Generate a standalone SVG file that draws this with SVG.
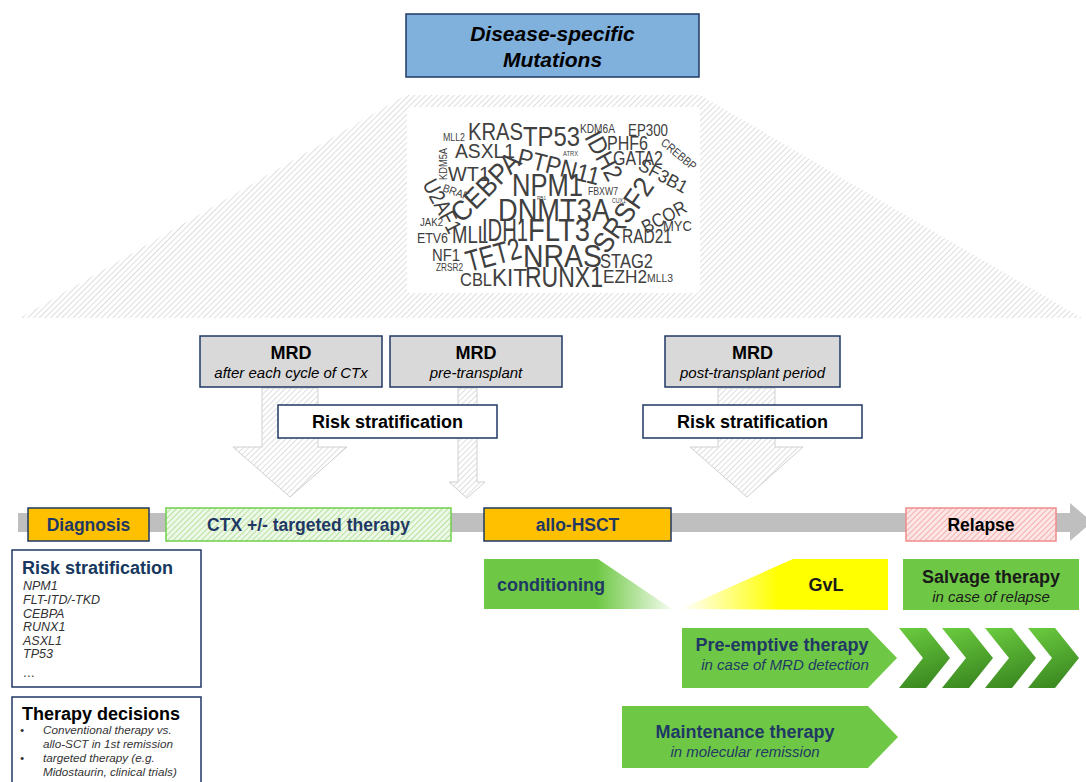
<svg xmlns="http://www.w3.org/2000/svg" width="1086" height="782" viewBox="0 0 1086 782">
<defs>
<pattern id="hGray" width="4" height="4" patternUnits="userSpaceOnUse" patternTransform="rotate(45)"><rect width="4" height="4" fill="#ffffff"/><line x1="0" y1="0" x2="0" y2="4" stroke="#d6d6d6" stroke-width="1.6"/></pattern>
<pattern id="hGreen" width="4" height="4" patternUnits="userSpaceOnUse" patternTransform="rotate(45)"><rect width="4" height="4" fill="#eef8e8"/><line x1="0" y1="0" x2="0" y2="4" stroke="#a9dd8e" stroke-width="1.6"/></pattern>
<pattern id="hRed" width="4" height="4" patternUnits="userSpaceOnUse" patternTransform="rotate(45)"><rect width="4" height="4" fill="#fde6e6"/><line x1="0" y1="0" x2="0" y2="4" stroke="#f2a3a3" stroke-width="1.6"/></pattern>
<linearGradient id="gCond" gradientUnits="userSpaceOnUse" x1="484" y1="0" x2="672" y2="0"><stop offset="0" stop-color="#6fc845"/><stop offset="0.6" stop-color="#6fc845"/><stop offset="1" stop-color="#f4fcef"/></linearGradient>
<linearGradient id="gGvL" gradientUnits="userSpaceOnUse" x1="681" y1="0" x2="888" y2="0"><stop offset="0" stop-color="#ffffff"/><stop offset="0.47" stop-color="#ffff00"/><stop offset="1" stop-color="#ffff00"/></linearGradient>
<linearGradient id="gChev" x1="0" y1="0" x2="0.3" y2="1"><stop offset="0" stop-color="#6ccc40"/><stop offset="1" stop-color="#3d8c22"/></linearGradient>
</defs>
<style>
text{font-family:"Liberation Sans",Arial,sans-serif}
.wc{fill:#404040}
.b{font-weight:bold}
.i{font-style:italic}
.navy{fill:#1f3864}
.box{stroke:#1f3864;stroke-width:1.5}
.mrd{fill:#d9d9d9;stroke:#1f3864;stroke-width:1.5}
.risk{fill:#ffffff;stroke:#1f3864;stroke-width:1.5}
.harr{fill:url(#hGray);stroke:#d0d0d0;stroke-width:1}
.grn{fill:#6fc845}
.lst{font-size:12.5px;font-style:italic;fill:#333333}
.bl{font-size:11.7px;font-style:italic;fill:#333333}
.t1{font-size:18px;font-weight:bold}
.t2{font-size:15px;font-style:italic}
.tl{font-size:17.5px;font-weight:bold}
</style>
<rect width="1086" height="782" fill="#ffffff"/>

<g id="mutations-title">
<rect x="406" y="14" width="293" height="63" fill="#80b0dc" class="box"/>
<text x="552.5" y="41" text-anchor="middle" font-size="21" class="b i">Disease-specific</text>
<text x="552.5" y="67" text-anchor="middle" font-size="21" class="b i">Mutations</text>
</g>

<g id="word-cloud">
<polygon points="406,95 700,95 1082,318 20,318" fill="url(#hGray)"/>
<rect x="407" y="107" width="293" height="186" rx="4" fill="#ffffff"/>
<g class="wc">
<text x="443" y="141" font-size="10" textLength="22" lengthAdjust="spacingAndGlyphs">MLL2</text>
<text x="468" y="140" font-size="23" textLength="55" lengthAdjust="spacingAndGlyphs">KRAS</text>
<text x="523" y="146" font-size="28" textLength="57" lengthAdjust="spacingAndGlyphs">TP53</text>
<text x="580" y="133" font-size="12" textLength="35" lengthAdjust="spacingAndGlyphs">KDM6A</text>
<text x="628" y="136" font-size="17" textLength="40" lengthAdjust="spacingAndGlyphs">EP300</text>
<text x="607" y="150" font-size="20" textLength="41" lengthAdjust="spacingAndGlyphs">PHF6</text>
<text x="455" y="158" font-size="21" textLength="60" lengthAdjust="spacingAndGlyphs">ASXL1</text>
<text x="563" y="156" font-size="7" textLength="15" lengthAdjust="spacingAndGlyphs">ATRX</text>
<text x="613" y="165" font-size="20" textLength="50" lengthAdjust="spacingAndGlyphs">GATA2</text>
<text x="448" y="181" font-size="21" textLength="42" lengthAdjust="spacingAndGlyphs">WT1</text>
<text x="512" y="196" font-size="32" textLength="71" lengthAdjust="spacingAndGlyphs">NPM1</text>
<text x="588" y="195" font-size="11" textLength="30" lengthAdjust="spacingAndGlyphs">FBXW7</text>
<text x="537" y="200" font-size="6" textLength="9" lengthAdjust="spacingAndGlyphs">RB1</text>
<text x="612" y="203" font-size="7" textLength="14" lengthAdjust="spacingAndGlyphs">CUX1</text>
<text x="498" y="221" font-size="32" textLength="112" lengthAdjust="spacingAndGlyphs">DNMT3A</text>
<text x="663" y="231" font-size="15" textLength="29" lengthAdjust="spacingAndGlyphs">MYC</text>
<text x="420" y="226" font-size="11" textLength="23" lengthAdjust="spacingAndGlyphs">JAK2</text>
<text x="482" y="241" font-size="31" textLength="46" lengthAdjust="spacingAndGlyphs">IDH1</text>
<text x="528" y="241" font-size="31" textLength="62" lengthAdjust="spacingAndGlyphs">FLT3</text>
<text x="417" y="243" font-size="14" textLength="31" lengthAdjust="spacingAndGlyphs">ETV6</text>
<text x="452" y="243" font-size="23" textLength="36" lengthAdjust="spacingAndGlyphs">MLL</text>
<text x="622" y="243" font-size="20" textLength="50" lengthAdjust="spacingAndGlyphs">RAD21</text>
<text x="432" y="261" font-size="17" textLength="28" lengthAdjust="spacingAndGlyphs">NF1</text>
<text x="523" y="267" font-size="32" textLength="79" lengthAdjust="spacingAndGlyphs">NRAS</text>
<text x="600" y="268" font-size="21" textLength="53" lengthAdjust="spacingAndGlyphs">STAG2</text>
<text x="436" y="271" font-size="11" textLength="27" lengthAdjust="spacingAndGlyphs">ZRSR2</text>
<text x="460" y="286" font-size="19" textLength="32" lengthAdjust="spacingAndGlyphs">CBL</text>
<text x="492" y="286" font-size="24" textLength="35" lengthAdjust="spacingAndGlyphs">KIT</text>
<text x="525" y="287" font-size="30" textLength="78" lengthAdjust="spacingAndGlyphs">RUNX1</text>
<text x="603" y="283" font-size="18" textLength="44" lengthAdjust="spacingAndGlyphs">EZH2</text>
<text x="647" y="282" font-size="11" textLength="26" lengthAdjust="spacingAndGlyphs">MLL3</text>
<text transform="translate(584,137) rotate(62)" font-size="25" textLength="52" lengthAdjust="spacingAndGlyphs">IDH2</text>
<text transform="translate(516,165) rotate(14)" font-size="25" textLength="84" lengthAdjust="spacingAndGlyphs">PTPN11</text>
<text transform="translate(462,224) rotate(-45)" font-size="28" textLength="86" lengthAdjust="spacingAndGlyphs">CEBPA</text>
<text transform="translate(422,184) rotate(62)" font-size="22" textLength="58" lengthAdjust="spacingAndGlyphs">U2AF1</text>
<text transform="translate(607,255) rotate(-55)" font-size="28" textLength="84" lengthAdjust="spacingAndGlyphs">SRSF2</text>
<text transform="translate(469,272) rotate(-15)" font-size="30" textLength="56" lengthAdjust="spacingAndGlyphs">TET2</text>
<text transform="translate(646,234) rotate(-28)" font-size="19" textLength="48" lengthAdjust="spacingAndGlyphs">BCOR</text>
<text transform="translate(637,169) rotate(28)" font-size="18" textLength="53" lengthAdjust="spacingAndGlyphs">SF3B1</text>
<text transform="translate(660,144) rotate(40)" font-size="12" textLength="42" lengthAdjust="spacingAndGlyphs">CREBBP</text>
<text transform="translate(442,191) rotate(20)" font-size="11" textLength="27" lengthAdjust="spacingAndGlyphs">BRAF</text>
<text transform="translate(447,180) rotate(-90)" font-size="11" textLength="32" lengthAdjust="spacingAndGlyphs">KDM5A</text>
</g>
</g>

<g id="connectors">
<polygon class="harr" points="262,388 318,388 318,447 347,447 290,497 233,447 262,447"/>
<polygon class="harr" points="458,388 477,388 477,482 485,482 467,498 449,482 458,482"/>
<polygon class="harr" points="718,388 775,388 775,447 803,447 747,497 690,447 718,447"/>
<rect x="18" y="513" width="1054" height="19" fill="#bfbfbf"/>
<polygon points="1070,503 1092,522 1070,541" fill="#bfbfbf"/>
</g>

<g id="mrd-ctx">
<rect x="200" y="336" width="182" height="51" class="mrd"/>
<text x="291" y="359" text-anchor="middle" class="t1" font-size="17">MRD</text>
<text x="291" y="378" text-anchor="middle" class="t2">after each cycle of CTx</text>
</g>
<g id="mrd-pre">
<rect x="390" y="336" width="172" height="51" class="mrd"/>
<text x="476" y="359" text-anchor="middle" class="t1" font-size="17">MRD</text>
<text x="476" y="378" text-anchor="middle" class="t2">pre-transplant</text>
</g>
<g id="mrd-post">
<rect x="665" y="336" width="175" height="51" class="mrd"/>
<text x="752.5" y="359" text-anchor="middle" class="t1" font-size="17">MRD</text>
<text x="752.5" y="378" text-anchor="middle" class="t2">post-transplant period</text>
</g>
<g id="risk-1">
<rect x="278" y="405" width="219" height="33" class="risk"/>
<text x="387.5" y="428" text-anchor="middle" class="t1">Risk stratification</text>
</g>
<g id="risk-2">
<rect x="643" y="405" width="219" height="33" class="risk"/>
<text x="752.5" y="428" text-anchor="middle" class="t1">Risk stratification</text>
</g>

<g id="diagnosis">
<rect x="28" y="508" width="121" height="33" fill="#ffc000" class="box"/>
<text x="88.5" y="531" text-anchor="middle" class="tl navy">Diagnosis</text>
</g>
<g id="ctx">
<rect x="166" y="508" width="285" height="33" fill="url(#hGreen)" stroke="#6fd04a" stroke-width="1.5"/>
<text x="308.5" y="531" text-anchor="middle" class="tl navy">CTX +/- targeted therapy</text>
</g>
<g id="allo-hsct">
<rect x="484" y="508" width="187" height="33" fill="#ffc000" class="box"/>
<text x="577.5" y="531" text-anchor="middle" class="tl navy">allo-HSCT</text>
</g>
<g id="relapse">
<rect x="906" y="508" width="150" height="33" fill="url(#hRed)" stroke="#f08c8c" stroke-width="1.5"/>
<text x="981" y="531" text-anchor="middle" class="tl">Relapse</text>
</g>

<g id="risk-stratification-list">
<rect x="12" y="550" width="189" height="137" fill="#ffffff" class="box"/>
<text x="22" y="574" font-size="18" class="b" fill="#17375e">Risk stratification</text>
<text x="23" y="590" class="lst">NPM1</text>
<text x="23" y="604" class="lst">FLT-ITD/-TKD</text>
<text x="23" y="618" class="lst">CEBPA</text>
<text x="23" y="631" class="lst">RUNX1</text>
<text x="23" y="645" class="lst">ASXL1</text>
<text x="23" y="658" class="lst">TP53</text>
<text x="23" y="677" class="lst">…</text>
</g>
<g id="therapy-decisions">
<rect x="12" y="697" width="189" height="95" fill="#ffffff" class="box"/>
<text x="22" y="720" font-size="18" class="b">Therapy decisions</text>
<text x="20" y="734" class="bl" font-style="normal">•</text>
<text x="43" y="734" class="bl">Conventional therapy vs.</text>
<text x="43" y="748" class="bl">allo-SCT in 1st remission</text>
<text x="20" y="762" class="bl" font-style="normal">•</text>
<text x="43" y="762" class="bl">targeted therapy (e.g.</text>
<text x="43" y="776" class="bl">Midostaurin, clinical trials)</text>
</g>

<g id="conditioning">
<polygon points="484,559 598,559 672,609 484,609" fill="url(#gCond)"/>
<text x="497" y="591" class="t1 navy">conditioning</text>
</g>
<g id="gvl">
<polygon points="681,609 793,559 888,559 888,610" fill="url(#gGvL)"/>
<text x="826" y="591" text-anchor="middle" class="t1" fill="#1a1a1a">GvL</text>
</g>
<g id="salvage">
<rect x="903" y="559" width="176" height="51" class="grn"/>
<text x="991" y="583" text-anchor="middle" class="t1" fill="#1a1a1a">Salvage therapy</text>
<text x="991" y="602" text-anchor="middle" class="t2" fill="#1a1a1a">in case of relapse</text>
</g>
<g id="pre-emptive">
<polygon points="682,628 868,628 897,658 868,688 682,688" class="grn"/>
<text x="782" y="651" text-anchor="middle" class="t1 navy">Pre-emptive therapy</text>
<text x="785" y="670" text-anchor="middle" class="t2 navy">in case of MRD detection</text>
</g>
<g id="chevrons" fill="url(#gChev)">
<polygon points="899,628 926,628 950,658 926,688 899,688 923,658"/>
<polygon points="942,628 969,628 993,658 969,688 942,688 966,658"/>
<polygon points="985,628 1012,628 1036,658 1012,688 985,688 1009,658"/>
<polygon points="1028,628 1055,628 1079,658 1055,688 1028,688 1052,658"/>
</g>
<g id="maintenance">
<polygon points="622,706 868,706 898,737 868,768 622,768" class="grn"/>
<text x="745" y="738" text-anchor="middle" class="t1 navy">Maintenance therapy</text>
<text x="745" y="757" text-anchor="middle" class="t2 navy">in molecular remission</text>
</g>
</svg>
